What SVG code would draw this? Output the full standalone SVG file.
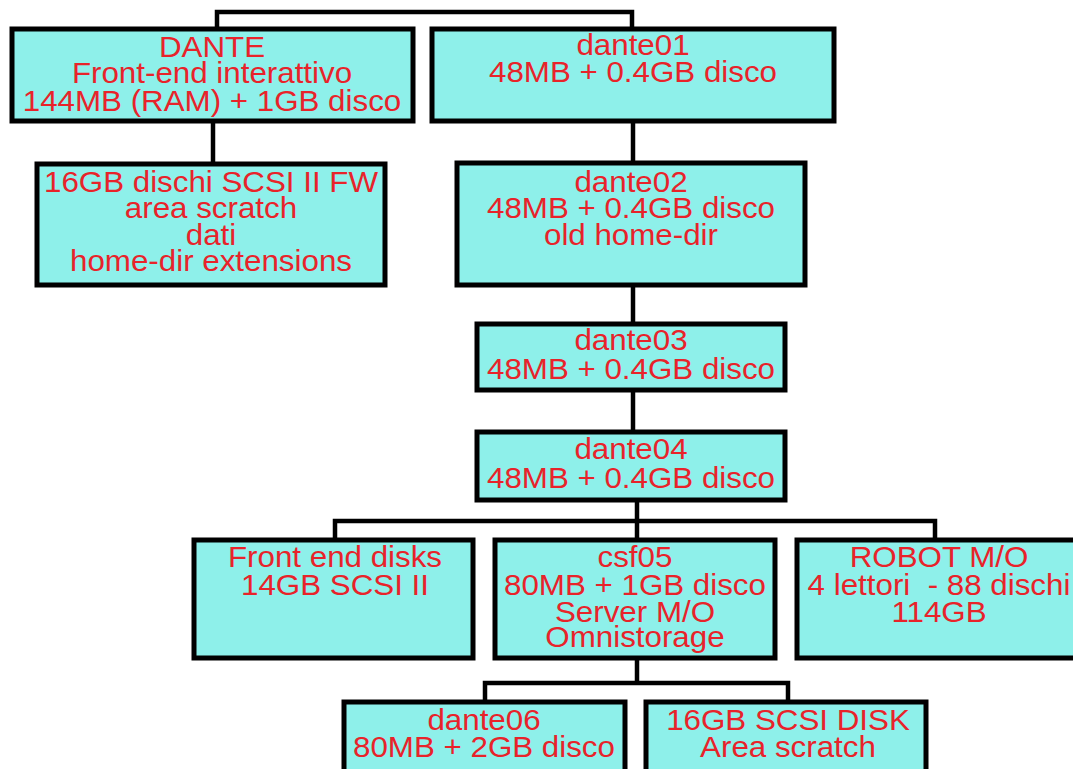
<svg xmlns="http://www.w3.org/2000/svg" width="1073" height="769" viewBox="0 0 1073 769">
<style>
.box{fill:#8ef0ea;stroke:#000;stroke-width:5}
.t{font-family:"Liberation Sans",Arial,sans-serif;font-size:29px;fill:#e8232a;text-anchor:middle;white-space:pre}
.c{fill:none;stroke:#000;stroke-width:4.5}
</style>
<rect width="1073" height="769" fill="#fff"/>
<g id="connectors">
<polyline class="c" points="217,28 217,12 632,12 632,28"/>
<line class="c" x1="213" y1="122" x2="213" y2="164"/>
<line class="c" x1="633" y1="122" x2="633" y2="164"/>
<line class="c" x1="633" y1="286" x2="633" y2="324"/>
<line class="c" x1="633" y1="390" x2="633" y2="432"/>
<line class="c" x1="637" y1="500" x2="637" y2="540"/>
<polyline class="c" points="335,540 335,521 935,521 935,540"/>
<line class="c" x1="637" y1="658" x2="637" y2="683"/>
<polyline class="c" points="485,702 485,683 788,683 788,702"/>
</g>
<g id="dante">
<rect class="box" x="12" y="29" width="401" height="92"/>
<text class="t" transform="matrix(1.08 0 0 1 -16.96 0)"><tspan x="212" y="57">DANTE</tspan><tspan x="212" y="83">Front-end interattivo</tspan><tspan x="212" y="111">144MB (RAM) + 1GB disco</tspan></text>
</g>
<g id="dante01">
<rect class="box" x="432" y="29" width="402" height="92"/>
<text class="t" transform="matrix(1.08 0 0 1 -50.64 0)"><tspan x="633" y="55">dante01</tspan><tspan x="633" y="82">48MB + 0.4GB disco</tspan></text>
</g>
<g id="dischi16">
<rect class="box" x="37" y="164" width="348" height="121"/>
<text class="t" transform="matrix(1.08 0 0 1 -16.88 0)"><tspan x="211" y="192">16GB dischi SCSI II FW</tspan><tspan x="211" y="218">area scratch</tspan><tspan x="211" y="245">dati</tspan><tspan x="211" y="271">home-dir extensions</tspan></text>
</g>
<g id="dante02">
<rect class="box" x="457" y="163" width="348" height="122"/>
<text class="t" transform="matrix(1.08 0 0 1 -50.48 0)"><tspan x="631" y="192">dante02</tspan><tspan x="631" y="218">48MB + 0.4GB disco</tspan><tspan x="631" y="245">old home-dir</tspan></text>
</g>
<g id="dante03">
<rect class="box" x="477" y="324" width="308" height="66"/>
<text class="t" transform="matrix(1.08 0 0 1 -50.48 0)"><tspan x="631" y="350">dante03</tspan><tspan x="631" y="379">48MB + 0.4GB disco</tspan></text>
</g>
<g id="dante04">
<rect class="box" x="477" y="432" width="308" height="68"/>
<text class="t" transform="matrix(1.08 0 0 1 -50.48 0)"><tspan x="631" y="459">dante04</tspan><tspan x="631" y="488">48MB + 0.4GB disco</tspan></text>
</g>
<g id="frontend">
<rect class="box" x="194" y="540" width="279" height="118"/>
<text class="t" transform="matrix(1.08 0 0 1 -26.8 0)"><tspan x="335" y="567">Front end disks</tspan><tspan x="335" y="595">14GB SCSI II</tspan></text>
</g>
<g id="csf05">
<rect class="box" x="495" y="540" width="280" height="118"/>
<text class="t" transform="matrix(1.08 0 0 1 -50.8 0)"><tspan x="635" y="567">csf05</tspan><tspan x="635" y="595">80MB + 1GB disco</tspan><tspan x="635" y="622">Server M/O</tspan><tspan x="635" y="647">Omnistorage</tspan></text>
</g>
<g id="robot">
<rect class="box" x="797" y="540" width="300" height="118"/>
<text class="t" transform="matrix(1.08 0 0 1 -75.12 0)"><tspan x="939" y="567">ROBOT M/O</tspan><tspan x="939" y="595">4 lettori  - 88 dischi</tspan><tspan x="939" y="622">114GB</tspan></text>
</g>
<g id="dante06">
<rect class="box" x="344" y="702" width="281" height="80"/>
<text class="t" transform="matrix(1.08 0 0 1 -38.72 0)"><tspan x="484" y="730">dante06</tspan><tspan x="484" y="757">80MB + 2GB disco</tspan></text>
</g>
<g id="scsidisk">
<rect class="box" x="646" y="702" width="280" height="80"/>
<text class="t" transform="matrix(1.08 0 0 1 -63.04 0)"><tspan x="788" y="730">16GB SCSI DISK</tspan><tspan x="788" y="757">Area scratch</tspan></text>
</g>
</svg>
